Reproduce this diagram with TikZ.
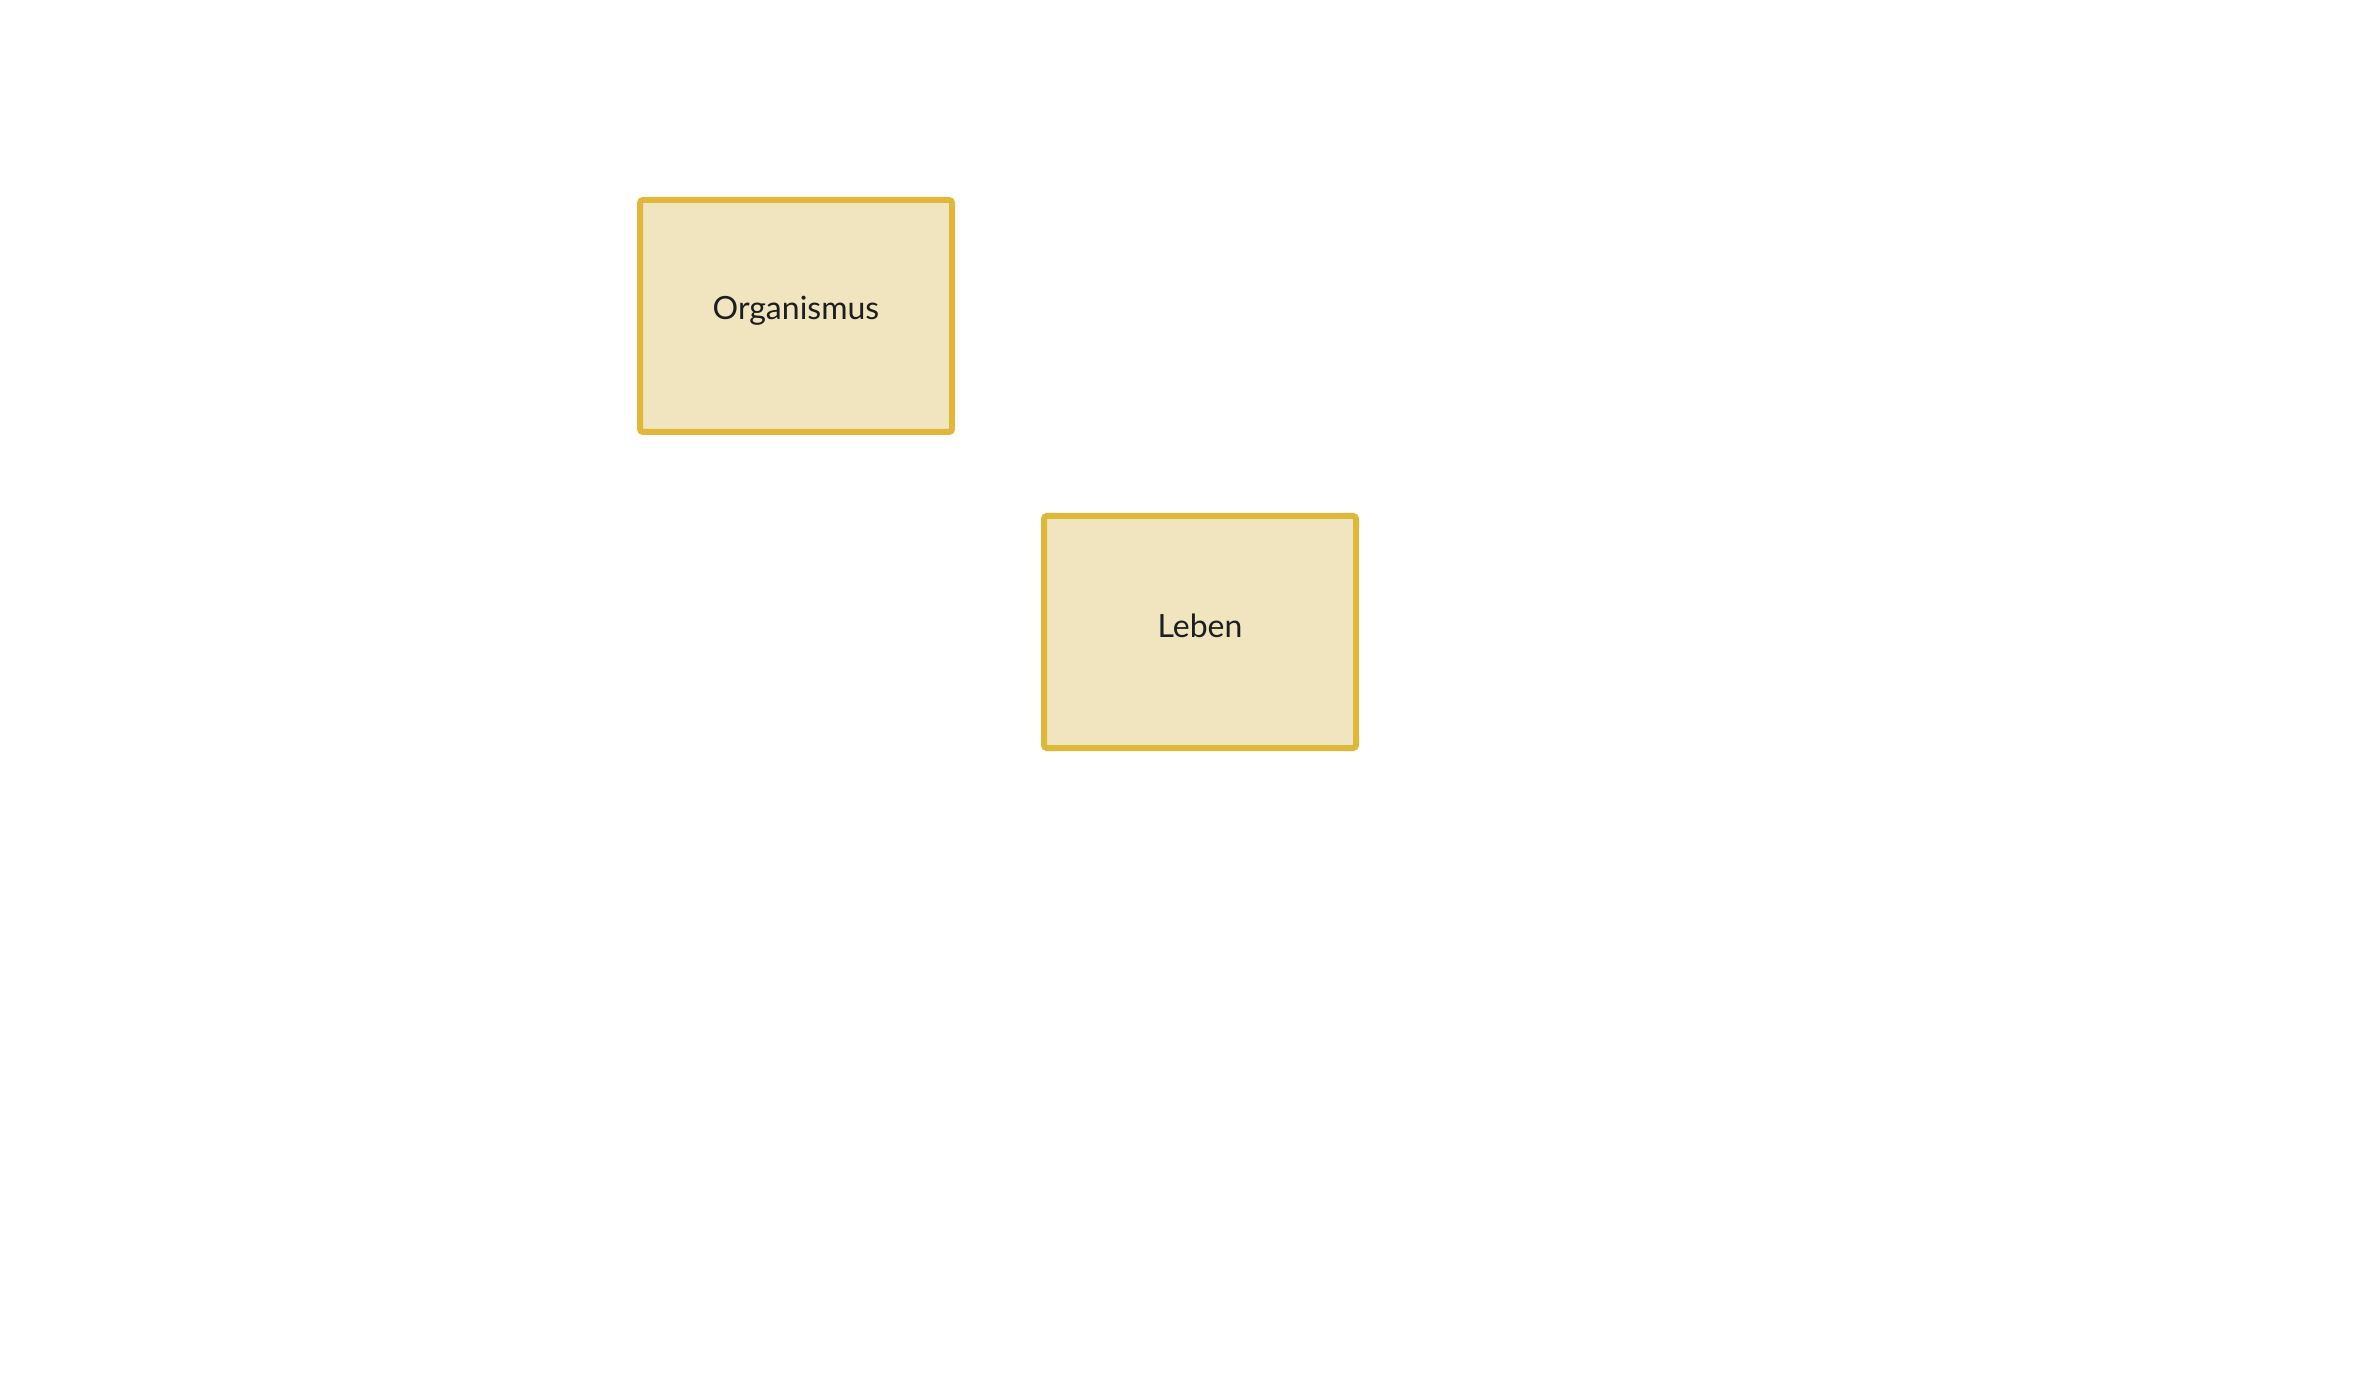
\documentclass[tikz,border=0pt]{standalone}
\usepackage{fontspec}
\setmainfont{Lato}
\definecolor{boxfill}{HTML}{F1E5BF}
\definecolor{boxline}{HTML}{E1B73A}
\definecolor{txt}{HTML}{1E1E1E}
\begin{document}
\begin{tikzpicture}[x=0.5pt,y=-0.5pt,
  conceptbox/.style={draw=boxline, fill=boxfill, line width=3pt, rounded corners=1.5pt,
    minimum width=156pt, minimum height=116pt, inner sep=0pt, outer sep=0pt},
  boxlabel/.style={text=txt, font=\fontsize{16}{20}\selectfont, inner sep=0pt}]
\useasboundingbox (0,0) rectangle (2380,1400);
\node[conceptbox] (org) at (796,316) {};
\node[boxlabel] (orgt) at (796,311) {Organismus};
\node[conceptbox] (leb) at (1200,632) {};
\node[boxlabel] (lebt) at (1200,626) {Leben};
\end{tikzpicture}
\end{document}
